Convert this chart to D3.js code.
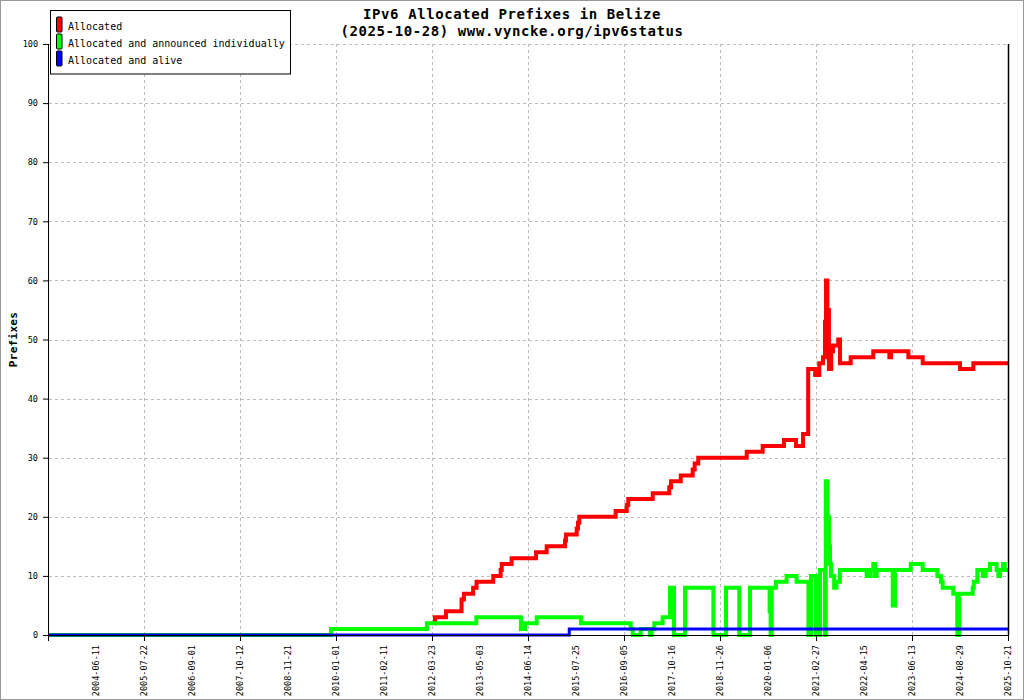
<!DOCTYPE html>
<html>
<head>
<meta charset="utf-8">
<script src="https://cdn.jsdelivr.net/npm/d3@7"></script>
<style>
  html, body { margin: 0; padding: 0; background: #fff; }
  svg { display: block; }
  text { font-family: "DejaVu Sans Mono", monospace; }
</style>
</head>
<body>
<svg id="chart" width="1024" height="700"></svg>
<script>
// ---------- DATA ----------
const titleLines = ["IPv6 Allocated Prefixes in Belize", "(2025-10-28) www.vyncke.org/ipv6status"];
const yLabel = "Prefixes";
const seriesNames = ["Allocated", "Allocated and announced individually", "Allocated and alive"];
const seriesColors = ["#ff0000", "#00ff00", "#0000ff"];

const axisStart = "2003-05-02";
const tickLabels = ["2004-06-11","2005-07-22","2006-09-01","2007-10-12","2008-11-21","2010-01-01",
  "2011-02-11","2012-03-23","2013-05-03","2014-06-14","2015-07-25","2016-09-05","2017-10-16",
  "2018-11-26","2020-01-06","2021-02-27","2022-04-15","2023-06-13","2024-08-29","2025-10-21"];
const yTicks = [0,10,20,30,40,50,60,70,80,90,100];

const allocatedDates = ["2012-04-12","2012-04-17","2012-07-19","2012-11-28","2012-12-18",
  "2013-03-06","2013-04-04","2013-08-23","2013-10-25","2013-11-03","2014-01-26","2014-08-21","2014-11-19",
  "2015-04-23","2015-05-01","2015-07-31","2015-08-11","2015-08-22","2016-06-26","2016-09-28","2016-10-11",
  "2017-05-06","2017-09-23","2017-10-08","2017-12-29","2018-04-09","2018-04-26","2018-05-26","2019-07-10",
  "2019-11-22","2020-05-24","2020-09-06","2020-11-06","2020-12-21","2021-02-20","2021-03-27","2021-04-28",
  "2021-05-15","2021-05-24","2021-06-05","2021-06-18","2021-06-27","2021-07-02","2021-07-08","2021-07-23",
  "2021-09-06","2021-09-21","2021-12-22","2022-07-06","2022-11-25","2022-12-10","2023-05-12","2023-09-20",
  "2024-08-29","2024-12-23","2025-10-21"];
const allocatedValues = [2,3,4,6,7,
  8,9,10,11,12,13,14,15,
  16,17,18,19,20,21,22,23,
  24,25,26,27,28,29,30,31,
  32,33,32,34,45,44,46,47,
  53,60,55,45,48,45,48,49,
  50,46,47,48,47,48,47,46,
  45,46,46];

const announcedDates = ["2003-05-02","2009-11-20","2012-02-09","2013-04-02","2014-04-15","2014-05-20",
  "2014-08-27","2015-09-05","2016-11-01","2016-11-18","2017-01-24","2017-04-13","2017-04-27","2017-05-19",
  "2017-07-29","2017-09-29","2017-10-08","2017-10-14","2017-11-02","2018-02-03","2018-10-01","2019-01-16",
  "2019-05-08","2019-08-07","2020-01-20","2020-01-29","2020-02-07","2020-03-15","2020-06-16","2020-09-11",
  "2020-12-23","2021-01-14","2021-02-27","2021-03-12","2021-03-20","2021-04-03","2021-05-15","2021-05-22",
  "2021-06-06","2021-06-18","2021-06-27","2021-07-06","2021-08-02","2021-08-21","2021-09-20","2022-05-09",
  "2022-06-13","2022-07-06","2022-07-21","2022-08-05","2022-12-25","2023-01-14","2023-06-02","2023-09-20",
  "2024-02-02","2024-03-07","2024-03-22","2024-06-28","2024-08-04","2024-08-22","2024-12-18","2024-12-27",
  "2025-01-27","2025-03-17","2025-04-10","2025-05-17","2025-07-14","2025-07-29","2025-08-12","2025-09-07",
  "2025-09-22","2025-10-21"];
const announcedValues = [0,1,2,3,1,2,
  3,2,1,0,1,0,1,2,
  3,8,3,8,0,8,0,8,
  0,8,4,0,8,9,10,9,
  0,10,0,10,0,11,0,26,
  20,15,12,10,8,9,11,10,
  11,12,10,11,5,11,12,11,
  10,9,8,7,0,7,8,9,
  11,10,11,12,11,10,11,12,
  11,11];

const aliveDates = ["2003-05-02","2015-05-29","2025-10-21"];
const aliveValues = [0,1,1];

// ---------- LAYOUT ----------
const W = 1024, H = 700;
const plot = { left: 48, right: 1008, top: 44, bottom: 635 };
const parse = d3.timeParse("%Y-%m-%d");

const svg = d3.select("#chart");
svg.append("rect").attr("x", 0.5).attr("y", 0.5).attr("width", W - 1).attr("height", H - 1)
  .attr("fill", "#fff").attr("stroke", "#999").attr("stroke-width", 1);

// polylinear time scale: each labelled date sits on an even pixel step
const domainDates = [axisStart].concat(tickLabels).map(parse);
const step = (plot.right - plot.left) / tickLabels.length;
const x = d3.scaleTime()
  .domain(domainDates)
  .range(domainDates.map((d, i) => plot.left + i * step));
const y = d3.scaleLinear().domain([0, 100]).range([plot.bottom, plot.top]);

// major ticks / grid: every other label
const majorDates = domainDates.filter((d, i) => i % 2 === 0);

// grid
const grid = svg.append("g").attr("stroke", "#bbbbbb").attr("stroke-width", 1)
  .attr("stroke-dasharray", "3,3").attr("fill", "none");
grid.selectAll("line.h").data(yTicks.filter(v => v > 0)).join("line").attr("class", "h")
  .attr("x1", plot.left + 1).attr("x2", plot.right)
  .attr("y1", d => Math.round(y(d)) + 0.5).attr("y2", d => Math.round(y(d)) + 0.5);
grid.selectAll("line.v").data(majorDates.slice(1)).join("line").attr("class", "v")
  .attr("x1", d => Math.round(x(d)) + 0.5).attr("x2", d => Math.round(x(d)) + 0.5)
  .attr("y1", plot.top).attr("y2", plot.bottom);

// series lines
const series = [
  { dates: allocatedDates, values: allocatedValues, color: seriesColors[0], width: 4 },
  { dates: announcedDates, values: announcedValues, color: seriesColors[1], width: 4 },
  { dates: aliveDates, values: aliveValues, color: seriesColors[2], width: 3 }
];
const line = d3.line().curve(d3.curveStepAfter)
  .x(d => x(d.date)).y(d => y(d.value));
series.forEach(s => {
  const pts = s.dates.map((d, i) => ({ date: parse(d), value: s.values[i] }));
  svg.append("path").datum(pts)
    .attr("d", line)
    .attr("fill", "none")
    .attr("stroke", s.color)
    .attr("stroke-width", s.width)
    .attr("stroke-linejoin", "miter")
    .attr("stroke-linecap", "butt");
});

// right frame line
svg.append("line").attr("x1", plot.right + 0.5).attr("x2", plot.right + 0.5)
  .attr("y1", plot.top).attr("y2", plot.bottom).attr("stroke", "#000").attr("stroke-width", 1.5);

// y axis
const yAxis = svg.append("g").attr("transform", `translate(${plot.left},0)`)
  .call(d3.axisLeft(y).tickValues(yTicks).tickSize(5).tickPadding(5).tickFormat(d3.format("d")));
yAxis.select(".domain").attr("d", `M0.5,${plot.top}V${plot.bottom}`).attr("stroke", "#000");
yAxis.selectAll("text").attr("font-family", "DejaVu Sans Mono").attr("font-size", "8.5px").attr("fill", "#000");
yAxis.selectAll(".tick line").attr("stroke", "#000");

// x axis: major ticks
const xMajor = svg.append("g").attr("transform", `translate(0,${plot.bottom})`)
  .call(d3.axisBottom(x).tickValues(majorDates).tickSize(6).tickFormat(""));
xMajor.select(".domain").attr("d", `M${plot.left},0.5H${plot.right + 1}`).attr("stroke", "#000");
xMajor.selectAll(".tick line").attr("stroke", "#000");

// x axis labels
const labelFmt = d3.timeFormat("%Y-%m-%d");
const xLab = svg.append("g").attr("transform", `translate(0,${plot.bottom})`)
  .call(d3.axisBottom(x).tickValues(tickLabels.map(parse)).tickSize(0).tickFormat(labelFmt));
xLab.select(".domain").remove();
xLab.selectAll(".tick line").remove();
xLab.selectAll("text")
  .attr("font-family", "DejaVu Sans Mono").attr("font-size", "8.5px").attr("fill", "#000")
  .attr("transform", "rotate(-90)")
  .attr("text-anchor", "end")
  .attr("x", -10).attr("y", 0).attr("dy", "0.32em");

// title
svg.selectAll("text.title").data(titleLines).join("text")
  .attr("class", "title")
  .attr("x", 512).attr("y", (d, i) => 18.5 + i * 17.5)
  .attr("text-anchor", "middle")
  .attr("font-size", "14px").attr("font-weight", "bold")
  .attr("letter-spacing", "0.6px")
  .attr("fill", "#000")
  .text(d => d);

// y label
svg.append("text")
  .attr("transform", `translate(17,${(plot.top + plot.bottom) / 2}) rotate(-90)`)
  .attr("text-anchor", "middle")
  .attr("font-size", "11px").attr("font-weight", "bold").attr("letter-spacing", "0.3px")
  .attr("fill", "#000")
  .text(yLabel);

// legend
const lg = svg.append("g");
lg.append("rect").attr("x", 50.5).attr("y", 10.5).attr("width", 240).attr("height", 63.5)
  .attr("fill", "#fff").attr("stroke", "#000").attr("stroke-width", 1);
seriesNames.forEach((name, i) => {
  lg.append("rect").attr("x", 56.5).attr("y", 17 + i * 17).attr("width", 5.5).attr("height", 15)
    .attr("rx", 1).attr("fill", seriesColors[i]).attr("stroke", "#000").attr("stroke-width", 1);
  lg.append("text").attr("x", 68).attr("y", 29.5 + i * 17)
    .attr("font-size", "10px").attr("fill", "#000").text(name);
});
</script>
</body>
</html>
